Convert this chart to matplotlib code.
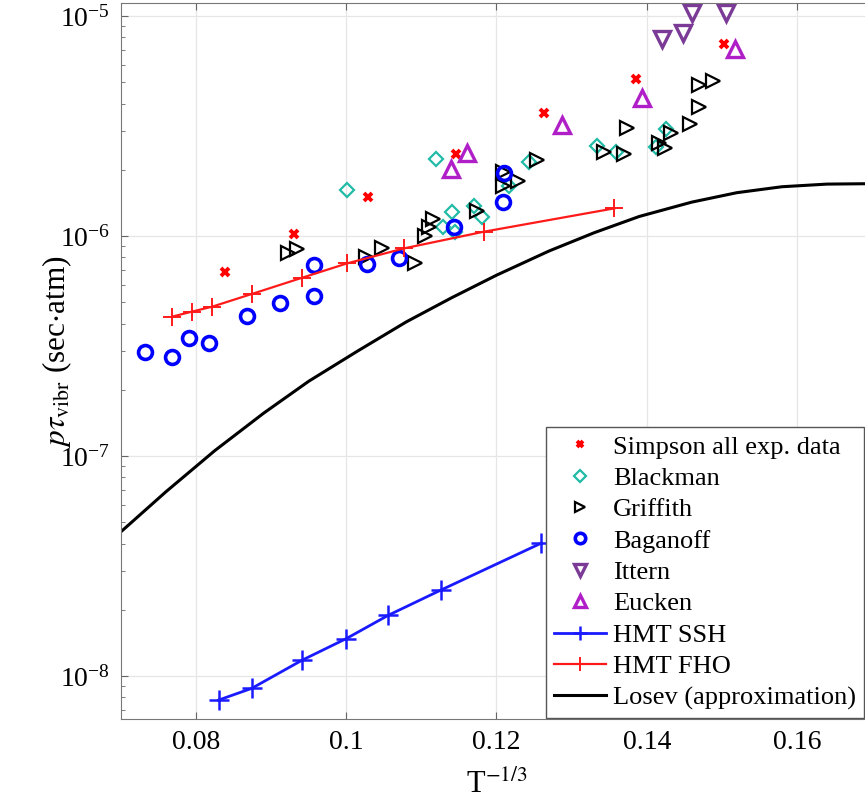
import matplotlib
matplotlib.use('Agg')
import matplotlib.pyplot as plt
from matplotlib.ticker import LogLocator, LogFormatterMathtext, NullFormatter

plt.rcParams['font.family'] = ['Liberation Serif', 'DejaVu Serif']
plt.rcParams['mathtext.fontset'] = 'stix'

# datos
simpson_x = [0.0838, 0.0931, 0.1029, 0.1146, 0.1263, 0.1386, 0.1503]
simpson_y = [6.84e-7, 1.02e-6, 1.51e-6, 2.36e-6, 3.61e-6, 5.16e-6, 7.44e-6]

blackman_x = [0.1001, 0.1120, 0.1141, 0.1129, 0.1145, 0.1170, 0.1181, 0.1217,
              0.1243, 0.1334, 0.1359, 0.1413, 0.1426]
blackman_y = [1.62e-6, 2.23e-6, 1.28e-6, 1.10e-6, 1.04e-6, 1.37e-6, 1.22e-6, 1.68e-6,
              2.18e-6, 2.57e-6, 2.42e-6, 2.55e-6, 3.06e-6]

griffith_x = [0.0923, 0.0934, 0.1026, 0.1048, 0.1092, 0.1105, 0.1110, 0.1115,
              0.1174, 0.1208, 0.1208, 0.1228, 0.1254, 0.1343, 0.1370, 0.1374,
              0.1417, 0.1425, 0.1432, 0.1458, 0.1470, 0.1470, 0.1488]
griffith_y = [8.34e-7, 8.70e-7, 8.05e-7, 8.79e-7, 7.51e-7, 1.00e-6, 1.10e-6, 1.20e-6,
              1.30e-6, 1.68e-6, 1.96e-6, 1.77e-6, 2.21e-6, 2.42e-6, 2.36e-6, 3.09e-6,
              2.64e-6, 2.52e-6, 2.95e-6, 3.23e-6, 3.87e-6, 4.86e-6, 5.06e-6]

baganoff_x = [0.0732, 0.0768, 0.0791, 0.0817, 0.0868, 0.0912, 0.0957, 0.0957,
              0.1028, 0.1070, 0.1143, 0.1210, 0.1208]
baganoff_y = [2.98e-7, 2.83e-7, 3.43e-7, 3.25e-7, 4.33e-7, 4.94e-7, 5.35e-7, 7.38e-7,
              7.43e-7, 7.92e-7, 1.10e-6, 1.94e-6, 1.43e-6]

ittern_x = [0.1421, 0.1448, 0.1460, 0.1506]
ittern_y = [7.86e-6, 8.34e-6, 1.03e-5, 1.03e-5]

eucken_x = [0.1140, 0.1161, 0.1287, 0.1394, 0.1517]
eucken_y = [2.01e-6, 2.38e-6, 3.20e-6, 4.24e-6, 7.08e-6]

ssh_x = [0.0830, 0.0874, 0.0941, 0.1000, 0.1056, 0.1126, 0.1259]
ssh_y = [7.78e-9, 8.79e-9, 1.18e-8, 1.48e-8, 1.89e-8, 2.46e-8, 4.01e-8]

fho_x = [0.0768, 0.0794, 0.0821, 0.0874, 0.0941, 0.1001, 0.1077, 0.1183, 0.1357]
fho_y = [4.30e-7, 4.53e-7, 4.77e-7, 5.45e-7, 6.46e-7, 7.51e-7, 8.79e-7, 1.046e-6, 1.336e-6]

losev_x = [0.070, 0.076, 0.0825, 0.089, 0.095, 0.1015, 0.108, 0.114, 0.120,
           0.127, 0.133, 0.139, 0.146, 0.152, 0.158, 0.164, 0.170]
losev_y = [4.53e-8, 6.89e-8, 1.059e-7, 1.567e-7, 2.188e-7, 3.0e-7, 4.074e-7, 5.236e-7,
           6.637e-7, 8.551e-7, 1.035e-6, 1.227e-6, 1.426e-6, 1.574e-6, 1.675e-6,
           1.722e-6, 1.730e-6]

fig = plt.figure(figsize=(8.65, 8.09), dpi=100)
ax = fig.add_axes([121/865, 1 - 719/809, (872 - 121)/865, (719 - 3)/809])

ax.plot(simpson_x, simpson_y, 'x', color='#ff0000', ms=6, mew=2.8, ls='none',
        label='Simpson all exp. data')
ax.plot(blackman_x, blackman_y, 'D', mfc='none', mec='#22bba6', ms=7.5, mew=1.6, ls='none',
        label='Blackman')
ax.plot(griffith_x, griffith_y, '>', mfc='none', mec='black', ms=10, mew=1.6, ls='none',
        label='Griffith')
ax.plot(baganoff_x, baganoff_y, 'o', mfc='none', mec='#0000ff', ms=10, mew=2.6, ls='none',
        label='Baganoff')
ax.plot(ittern_x, ittern_y, 'v', mfc='none', mec='#7a3a95', ms=11, mew=2.4, ls='none',
        label='Ittern')
ax.plot(eucken_x, eucken_y, '^', mfc='none', mec='#b01ec8', ms=11, mew=2.4, ls='none',
        label='Eucken')
ax.plot(ssh_x, ssh_y, '-+', color='#1a1aff', lw=2, ms=14, mew=1.8, label='HMT SSH')
ax.plot(fho_x, fho_y, '-+', color='#ff1a1a', lw=1.6, ms=13, mew=1.4, label='HMT FHO')
ax.plot(losev_x, losev_y, '-', color='black', lw=2.2, label='Losev (approximation)')

ax.set_yscale('log')
ax.set_xlim(0.07, 0.17)
ax.set_ylim(6.38e-9, 1.146e-5)
ax.set_xticks([0.08, 0.1, 0.12, 0.14, 0.16])
ax.set_xticklabels(['0.08', '0.1', '0.12', '0.14', '0.16'])
ax.yaxis.set_major_locator(LogLocator(base=10))
ax.yaxis.set_major_formatter(LogFormatterMathtext())
ax.yaxis.set_minor_locator(LogLocator(base=10, subs=range(2, 10)))
ax.yaxis.set_minor_formatter(NullFormatter())

ax.grid(True, which='major', color='#e6e6e6', lw=0.9)
ax.tick_params(which='both', direction='in', top=True, right=True, labelsize=20,
               color='#666666', pad=8)
ax.tick_params(which='major', length=5)
ax.tick_params(which='minor', length=3)
for s in ax.spines.values():
    s.set_color('#777777')

ax.set_xlabel(r'T$^{\mathrm{-1/3}}$', fontsize=22, labelpad=10)
ax.set_ylabel(r'$p\tau_{\mathrm{vibr}}$ (sec$\cdot$atm)', fontsize=22.5)
ax.yaxis.set_label_coords(-0.062, 0.513)

leg = ax.legend(loc='lower right', bbox_to_anchor=(864/865, 1 - 718/809),
                bbox_transform=fig.transFigure, fontsize=19, frameon=True,
                fancybox=False, framealpha=1, edgecolor='#555555', borderpad=0.3,
                labelspacing=0.3, handlelength=2.0, handletextpad=0.25,
                borderaxespad=0, markerscale=0.75)
leg.get_frame().set_linewidth(1.0)

fig.savefig('out.png', dpi=100)
